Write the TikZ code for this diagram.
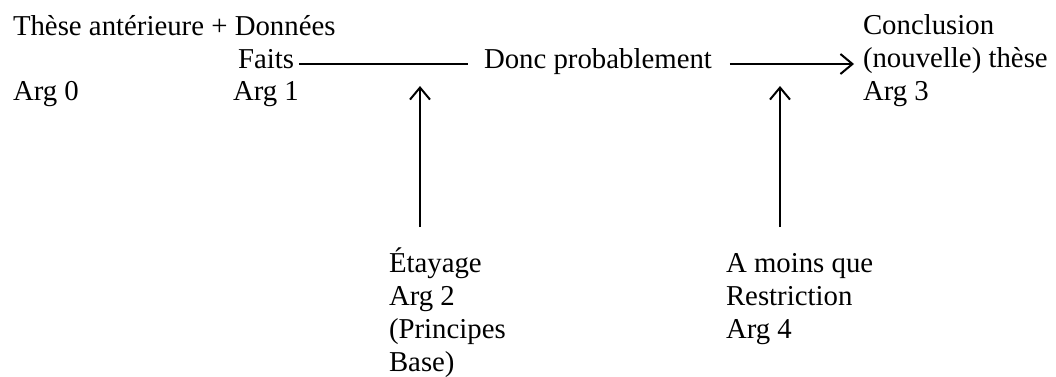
\documentclass[tikz,border=0pt]{standalone}
\usepackage{fontspec}
\setmainfont{Liberation Serif}
\usetikzlibrary{arrows.meta}

\begin{document}
\begin{tikzpicture}[x=0.5pt, y=-0.5pt, line width=1pt,
    >={Straight Barb[length=6pt,width=10pt]},
    txt/.style={anchor=base west, inner sep=0pt, align=left,
      font=\fontsize{14.4}{16.5}\selectfont}]

  \useasboundingbox (0,0) rectangle (1056,376);

  % rangee du haut (base = derniere ligne)
  \node[txt] (these) at (12,35) {Thèse antérieure + Données};
  \node[txt] (faits) at (237,68) {Faits};
  \node[txt] (arg0) at (12,100) {Arg 0};
  \node[txt] (arg1) at (232,100) {Arg 1};
  \node[txt] (donc) at (483,68) {Donc probablement};
  \node[txt] (concl) at (862,100) {Conclusion\\(nouvelle) thèse\\Arg 3};

  % en bas
  \node[txt] (etayage) at (388,371) {Étayage\\Arg 2\\(Principes\\Base)};
  \node[txt] (restr) at (725,338) {A moins que\\Restriction\\Arg 4};

  \coordinate (w1) at (420,86);
  \coordinate (w2) at (780,86);

  \draw ([xshift=2pt,yshift=2pt]faits.base east) -- ([xshift=-7.5pt,yshift=2pt]donc.base west);
  \draw[->] ([xshift=8.5pt,yshift=2pt]donc.base east) -- ([xshift=-4pt,yshift=2pt]donc.base -| concl.west);
  \draw[->] (w1 |- 0,227) -- (w1);
  \draw[->] (w2 |- 0,227) -- (w2);

\end{tikzpicture}
\end{document}
